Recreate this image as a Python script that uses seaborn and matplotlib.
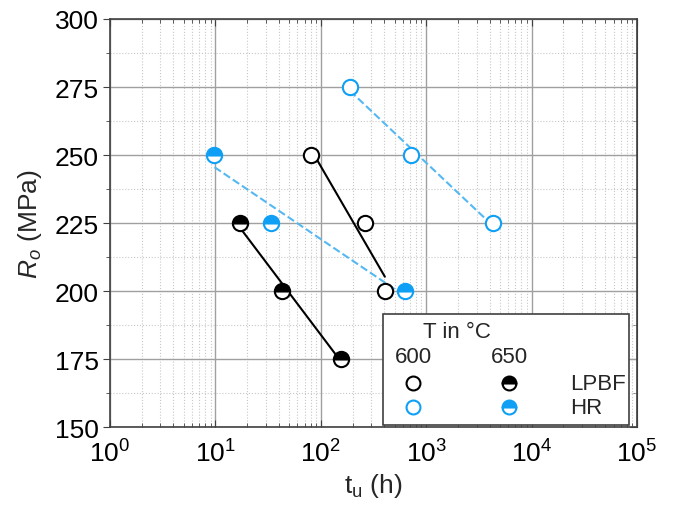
import numpy as np
import pandas as pd
import matplotlib
matplotlib.use("Agg")
import matplotlib.pyplot as plt
import seaborn as sns
from matplotlib.ticker import LogLocator, MultipleLocator, NullFormatter
from matplotlib.patches import Rectangle
from matplotlib.lines import Line2D

# time to rupture (h) and stress (MPa)
lpbf600_t = [81, 263, 405]
lpbf600_r = [250, 225, 200]
lpbf650_t = [17, 43, 157]
lpbf650_r = [225, 200, 175]
hr600_t = [189, 715, 4300]
hr600_r = [275, 250, 225]
hr650_t = [9.8, 34, 630]
hr650_r = [250, 225, 200]

black = "#000000"
blue = "#0fa0f5"
blue_line = "#55b8f2"

sns.set_style("white")
plt.rcParams["font.family"] = ["Liberation Sans", "DejaVu Sans"]
plt.rcParams["mathtext.fontset"] = "custom"
plt.rcParams["mathtext.rm"] = "Liberation Sans"
plt.rcParams["mathtext.it"] = "Liberation Sans:italic"

fig = plt.figure(figsize=(6.77, 5.06), dpi=100)
ax = fig.add_axes([0.1625, 0.154, 0.7785, 0.8065])
ax.set_xscale("log")

series = [
    (lpbf600_t, lpbf600_r, black, black, "-", "none"),
    (lpbf650_t, lpbf650_r, black, black, "-", "top"),
    (hr600_t, hr600_r, blue, blue_line, "--", "none"),
    (hr650_t, hr650_r, blue, blue_line, "--", "top"),
]

for t, r, mc, lc, ls, fs in series:
    df = pd.DataFrame({"t": t, "r": r})
    sns.regplot(data=df, x="t", y="r", logx=True, scatter=False, ci=None,
                truncate=True, ax=ax,
                line_kws=dict(color=lc, ls=ls, lw=1.5, zorder=3))
    if fs == "none":
        ax.plot(df["t"], df["r"], "o", ms=11, mew=1.5, mec=mc, mfc="white",
                zorder=4)
    else:
        ax.plot(df["t"], df["r"], "o", ms=11, mew=1.5, mec=mc, mfc=mc,
                fillstyle="top", markerfacecoloralt="white", zorder=4)

ax.set_xlim(1, 1e5)
ax.set_ylim(150, 300)
ax.xaxis.set_major_locator(LogLocator(base=10, numticks=10))
ax.xaxis.set_minor_locator(LogLocator(base=10, subs=np.arange(2, 10), numticks=20))
ax.xaxis.set_minor_formatter(NullFormatter())
ax.yaxis.set_major_locator(MultipleLocator(25))
ax.yaxis.set_minor_locator(MultipleLocator(12.5))

ax.grid(True, which="major", color="#a0a0a0", lw=1.0, ls="-")
ax.grid(True, which="minor", color="#c8c8c8", lw=0.8, ls=":")
ax.set_axisbelow(True)

for s in ax.spines.values():
    s.set_color("#404040")
    s.set_linewidth(1.2)

ax.tick_params(axis="x", which="both", direction="in", top=True, bottom=True,
               labelsize=19, colors="#404040", labelcolor="black", pad=9)
ax.tick_params(axis="x", which="major", length=5)
ax.tick_params(axis="x", which="minor", length=3)
ax.tick_params(axis="y", which="both", direction="out", left=True,
               labelsize=19, colors="#404040", labelcolor="black", pad=3)
ax.tick_params(axis="y", which="major", length=5)
ax.tick_params(axis="y", which="minor", length=3)

sec = ax.secondary_yaxis("right")
sec.yaxis.set_major_locator(MultipleLocator(25))
sec.yaxis.set_minor_locator(MultipleLocator(12.5))
sec.tick_params(which="both", direction="in", labelright=False, colors="#404040")
sec.tick_params(which="major", length=5)
sec.tick_params(which="minor", length=3)
sec.spines["right"].set_color("#404040")

ax.set_xlabel(r"t$_\mathrm{u}$ (h)", fontsize=19, labelpad=3)
ax.set_ylabel(r"$R_o$ (MPa)", fontsize=19, labelpad=8)

# manual legend table
ax.add_patch(Rectangle((0.518, 0.004), 0.467, 0.273, transform=ax.transAxes,
                       facecolor="white", edgecolor="#404040", lw=1.2, zorder=5))
ax.text(0.594, 0.235, "T in °C", transform=ax.transAxes, fontsize=16,
        va="center", ha="left", zorder=6)
ax.text(0.575, 0.174, "600", transform=ax.transAxes, fontsize=16,
        va="center", ha="center", zorder=6)
ax.text(0.757, 0.174, "650", transform=ax.transAxes, fontsize=16,
        va="center", ha="center", zorder=6)
for yy, c, name in [(0.108, black, "LPBF"), (0.049, blue, "HR")]:
    ax.add_line(Line2D([0.575], [yy], transform=ax.transAxes, marker="o",
                       ms=10, mew=1.5, mec=c, mfc="white", ls="none", zorder=6))
    ax.add_line(Line2D([0.757], [yy], transform=ax.transAxes, marker="o",
                       ms=10, mew=1.5, mec=c, mfc=c, fillstyle="top",
                       markerfacecoloralt="white", ls="none", zorder=6))
    ax.text(0.873, yy, name, transform=ax.transAxes, fontsize=16,
            va="center", ha="left", zorder=6)

fig.savefig("out.png", dpi=100)
